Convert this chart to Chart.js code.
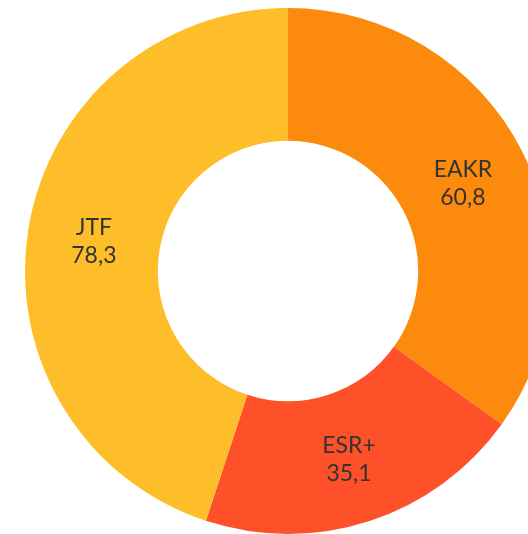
<!DOCTYPE html>
<html>
<head>
<meta charset="utf-8">
<script src="https://cdn.jsdelivr.net/npm/chart.js@4/dist/chart.umd.min.js"></script>
<style>
  html, body { margin: 0; padding: 0; background: #fff; overflow: hidden; }
  #wrap { width: 576px; height: 542px; position: relative; }
</style>
</head>
<body>
<div id="wrap"><canvas id="graphFunds"></canvas></div>
<script>
const labelsFunds = ['EAKR', 'ESR+', 'JTF'];
const valuesFunds = [60.8, 35.1, 78.3];
const colorsFunds = ['#FC8A0D', '#FE5029', '#FDBE29'];

// etiquetas dentro de cada segmento
const labelPlugin = {
    id: 'labelPlugin',
    afterDatasetsDraw(chart) {
        const ctx = chart.ctx;
        const meta = chart.getDatasetMeta(0);
        ctx.save();
        ctx.font = '23px Lato, "Open Sans", sans-serif';
        ctx.fillStyle = '#333333';
        ctx.textAlign = 'center';
        ctx.textBaseline = 'middle';
        meta.data.forEach(function(arc, i) {
            const pos = arc.tooltipPosition();
            const val = valuesFunds[i].toFixed(1).replace('.', ',');
            ctx.fillText(labelsFunds[i], pos.x, pos.y - 12);
            ctx.fillText(val, pos.x, pos.y + 16);
        });
        ctx.restore();
    }
};

const graphFunds = document.querySelector('#graphFunds');
const dataFunds = {
    labels: labelsFunds,
    datasets: [{
        data: valuesFunds,
        backgroundColor: colorsFunds,
        borderWidth: 0
    }]
};

const configFunds = {
    type: 'doughnut',
    data: dataFunds,
    options: {
        responsive: true,
        maintainAspectRatio: false,
        animation: false,
        cutout: '49.5%',
        layout: { padding: 8 },
        plugins: {
            legend: { display: false },
            tooltip: { enabled: false }
        }
    },
    plugins: [labelPlugin]
};

new Chart(graphFunds, configFunds);
</script>
</body>
</html>
